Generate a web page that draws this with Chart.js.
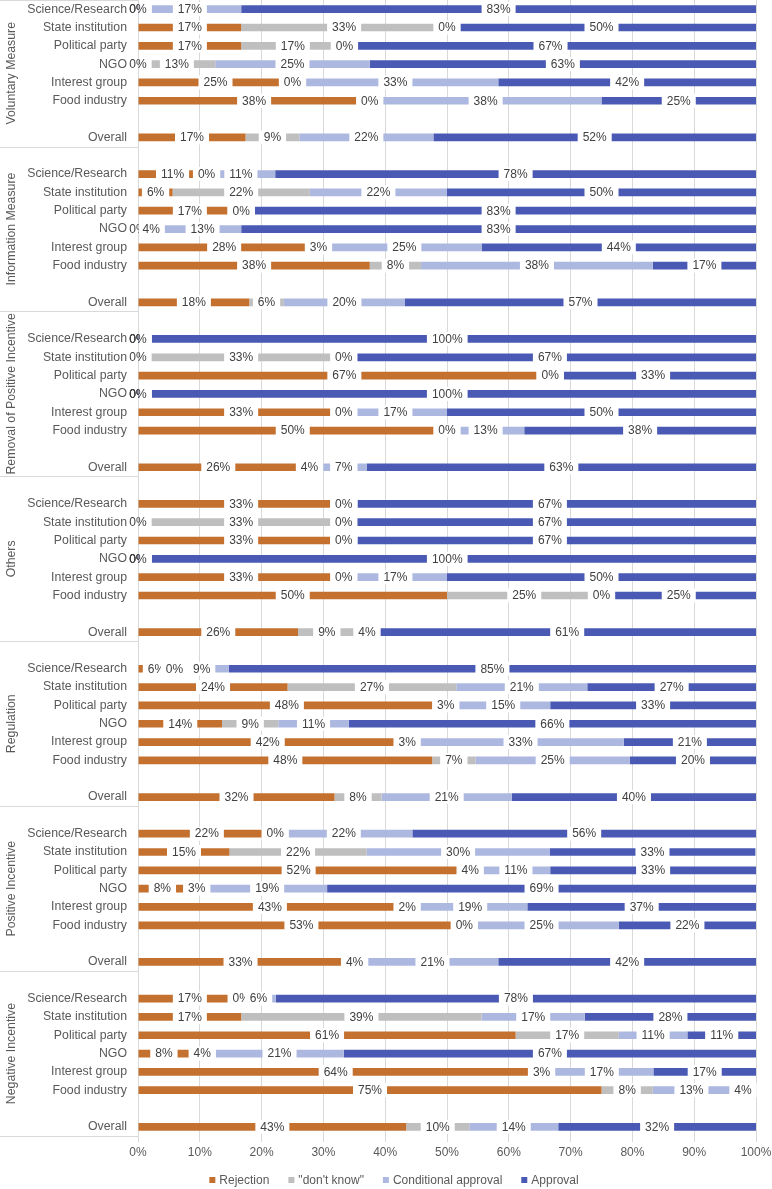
<!DOCTYPE html>
<html>
<head>
<meta charset="utf-8">
<script src="https://cdn.jsdelivr.net/npm/chart.js@4/dist/chart.umd.min.js"></script>
<style>
  html, body { margin: 0; padding: 0; background: #fff; }
  #wrap { width: 772px; height: 1189px; }
</style>
</head>
<body>
<div id="wrap"><canvas id="myChart" width="772" height="1189"></canvas></div>
<script>
"use strict";

const fontFamily = "'Liberation Sans', Arial, sans-serif";

const groupNames = [
  'Voluntary Measure',
  'Information Measure',
  'Removal of Positive Incentive',
  'Others',
  'Regulation',
  'Positive Incentive',
  'Negative Incentive'
];

const actorNames = ['Science/Research', 'State institution', 'Political party', 'NGO',
  'Interest group', 'Food industry', 'Overall'];

const seriesNames = ['Rejection', '"don\'t know"', 'Conditional approval', 'Approval'];

// one row per group, values per actor (last one = Overall), in percent
const rejection = [
  [0, 16.7, 16.7, 0, 25, 37.5, 17.4],
  [11.1, 5.6, 16.7, 0, 27.8, 37.5, 18.0],
  [0, 0, 66.7, 0, 33.3, 50, 25.9],
  [33.3, 0, 33.3, 0, 33.3, 50, 25.9],
  [5.9, 24.2, 48.1, 13.6, 41.9, 47.6, 31.8],
  [22.2, 14.8, 51.9, 7.8, 42.6, 52.8, 33.1],
  [16.7, 16.7, 61.1, 8.3, 63.9, 75, 43.4]
];
const dontKnow = [
  [0, 33.3, 16.7, 12.5, 0, 0, 8.7],
  [0, 22.2, 0, 4.2, 2.8, 8.3, 5.6],
  [0, 33.3, 0, 0, 0, 0, 3.7],
  [0, 33.3, 0, 0, 0, 25, 9.3],
  [0, 27.3, 3.4, 9.1, 3.3, 7.0, 7.6],
  [0, 22.2, 3.7, 3.4, 1.9, 0, 3.9],
  [0, 38.9, 16.7, 4.2, 2.8, 8.3, 10.2]
];
const conditional = [
  [16.7, 0, 0, 25, 33.3, 37.5, 21.7],
  [11.1, 22.2, 0, 12.5, 25, 37.5, 19.6],
  [0, 0, 0, 0, 16.7, 12.5, 7.4],
  [0, 0, 0, 0, 16.7, 0, 3.7],
  [8.8, 21.2, 15.2, 11.4, 33.4, 25.0, 21.1],
  [22.2, 29.6, 11.1, 19.4, 18.5, 25, 21.3],
  [5.6, 16.7, 11.1, 20.8, 16.7, 12.5, 14.4]
];
const approval = [
  [83.3, 50, 66.7, 62.5, 41.7, 25, 52.2],
  [77.8, 50, 83.3, 83.3, 44.4, 16.7, 56.8],
  [100, 66.7, 33.3, 100, 50, 37.5, 63.0],
  [66.7, 66.7, 66.7, 100, 50, 25, 61.1],
  [85.3, 27.3, 33.3, 65.9, 21.4, 20.4, 39.5],
  [55.6, 33.3, 33.3, 69.4, 37.0, 22.2, 41.7],
  [77.7, 27.7, 11.1, 66.7, 16.6, 4.2, 32.0]
];

const colors = ['#C4702F', '#BFBFBF', '#ADB8E0', '#4A5AB4'];

// build the category axis: blank row before each group (except the first) and before Overall
const labels = [];
const groupEnds = [];
const rowMap = []; // [group, actor] or null
groupNames.forEach((g, gi) => {
  if (gi > 0) { labels.push(''); rowMap.push(null); }
  actorNames.forEach((a, ai) => {
    if (ai === 6) { labels.push(''); rowMap.push(null); }
    labels.push(a);
    rowMap.push([gi, ai]);
  });
  groupEnds.push(labels.length - 1);
});

function flatten(series) {
  return rowMap.map(r => r ? series[r[0]][r[1]] : null);
}

const barLabels = {
  id: 'barLabels',
  afterDatasetsDraw(chart) {
    const ctx = chart.ctx;
    const left = chart.chartArea.left;
    ctx.save();
    ctx.font = '12px ' + fontFamily;
    ctx.textAlign = 'center';
    ctx.textBaseline = 'middle';
    chart.data.datasets.forEach((ds, i) => {
      chart.getDatasetMeta(i).data.forEach((bar, j) => {
        const v = ds.data[j];
        if (v === null) return;
        const p = bar.getProps(['x', 'base', 'y'], true);
        const cx = (p.x + p.base) / 2;
        const txt = Math.round(v) + '%';
        const w = ctx.measureText(txt).width;
        // white label box, kept inside the plot so it does not hide the category text
        const bx = Math.max(cx - w / 2 - 5, left + 1);
        ctx.fillStyle = '#fff';
        ctx.fillRect(bx, p.y - 7, cx + w / 2 + 5 - bx, 14);
        ctx.fillStyle = '#404040';
        ctx.fillText(txt, cx, p.y + 0.5);
      });
    });
    ctx.restore();
  }
};

const groupFrame = {
  id: 'groupFrame',
  afterDraw(chart) {
    const y = chart.scales.y;
    const ctx = chart.ctx;
    const slot = y.getPixelForValue(1) - y.getPixelForValue(0);
    ctx.save();
    ctx.strokeStyle = '#D9D9D9';
    ctx.lineWidth = 1;
    ctx.fillStyle = '#595959';
    ctx.font = '12.3px ' + fontFamily;
    ctx.textAlign = 'center';
    ctx.textBaseline = 'middle';
    let top = y.top;
    ctx.beginPath();
    ctx.moveTo(0, Math.round(top) + 0.5);
    ctx.lineTo(y.right, Math.round(top) + 0.5);
    ctx.stroke();
    groupEnds.forEach((endIdx, gi) => {
      const bottom = gi === groupEnds.length - 1 ? y.bottom : y.getPixelForValue(endIdx) + slot / 2;
      ctx.beginPath();
      ctx.moveTo(0, Math.round(bottom) + 0.5);
      ctx.lineTo(y.right, Math.round(bottom) + 0.5);
      ctx.stroke();
      ctx.save();
      ctx.translate(12, (top + bottom) / 2);
      ctx.rotate(-Math.PI / 2);
      ctx.fillText(groupNames[gi], 0, 0);
      ctx.restore();
      top = bottom;
    });
    ctx.restore();
  }
};

// Excel-like legend: small squares, tight text, wide gaps between entries
const bottomLegend = {
  id: 'bottomLegend',
  afterDraw(chart) {
    const ctx = chart.ctx;
    ctx.save();
    ctx.font = '12px ' + fontFamily;
    ctx.textBaseline = 'middle';
    ctx.textAlign = 'left';
    const box = 6, gapText = 4, gapItem = 19;
    const widths = seriesNames.map(s => box + gapText + ctx.measureText(s).width);
    const total = widths.reduce((a, b) => a + b, 0) + gapItem * (widths.length - 1);
    let x = 394 - total / 2;
    const cy = 1180;
    seriesNames.forEach((s, i) => {
      ctx.fillStyle = colors[i];
      ctx.fillRect(x, cy - box / 2, box, box);
      ctx.fillStyle = '#595959';
      ctx.fillText(s, x + box + gapText, cy + 0.5);
      x += widths[i] + gapItem;
    });
    ctx.restore();
  }
};

const data = {
  labels,
  datasets: [rejection, dontKnow, conditional, approval].map((s, i) => ({
    label: seriesNames[i],
    data: flatten(s),
    backgroundColor: colors[i],
    borderWidth: 0,
    categoryPercentage: 1,
    barPercentage: 0.42
  }))
};

const config = {
  type: 'bar',
  data: data,
  options: {
    indexAxis: 'y',
    responsive: false,
    animation: false,
    layout: { padding: { top: 0, right: 0, left: 0, bottom: 26.6 } },
    plugins: {
      legend: { display: false },
      tooltip: { enabled: false }
    },
    scales: {
      x: {
        stacked: true,
        min: 0,
        max: 100,
        ticks: {
          stepSize: 10,
          callback: v => v + '%',
          color: '#595959',
          font: { family: fontFamily, size: 12 },
          padding: 3
        },
        grid: { color: '#D9D9D9', tickLength: 6 },
        border: { display: false },
        afterFit: scale => {
          scale.paddingRight = 16;
        }
      },
      y: {
        stacked: true,
        ticks: {
          autoSkip: false,
          color: '#595959',
          font: { family: fontFamily, size: 12.3 },
          padding: 3
        },
        grid: { display: false },
        border: { display: true, color: '#D9D9D9' },
        afterFit: scale => {
          scale.width = 138;
          scale.paddingTop = 0;
          scale.paddingBottom = 0;
        }
      }
    }
  },
  plugins: [barLabels, groupFrame, bottomLegend]
};

const myChart = new Chart(document.querySelector('#myChart').getContext('2d'), config);
</script>
</body>
</html>
